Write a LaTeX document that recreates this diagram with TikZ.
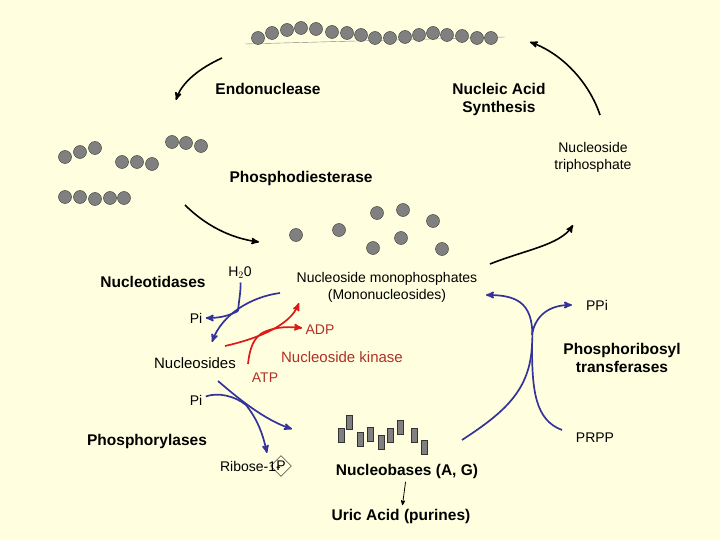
\documentclass[tikz,border=0pt]{standalone}
\usepackage{fontspec}
\setmainfont{Liberation Sans}
\usetikzlibrary{arrows,calc,shapes.geometric}
\definecolor{paper}{HTML}{FFFFE0}
\definecolor{bead}{HTML}{808080}
\definecolor{enzblue}{HTML}{33339A}
\definecolor{kinred}{HTML}{E01818}
\definecolor{kintext}{HTML}{B03028}
\tikzset{
%Define standard arrow tip
>=stealth',
%Styles for the cycle
bead/.style={fill=bead, draw=black!80, thin},
cycle arrow/.style={->, line width=1.6pt},
enzyme/.style={font=\bfseries\fontsize{15.5}{18}\selectfont, align=center},
compound/.style={font=\fontsize{14}{17}\selectfont, align=center},
blue path/.style={->, enzblue, line width=1.7pt},
red path/.style={->, kinred, line width=1.7pt},
base/.style={fill=bead, draw=black!80, thin},
}

\begin{document}
\begin{tikzpicture}[x=1pt,y=-1pt]
    % Frame
    \fill[paper] (0,0) rectangle (720,540);
    \useasboundingbox (0,0) rectangle (720,540);

    % Nucleic acid strand
    \draw[gray, thin] (245,44) -- (505,37);
    \foreach \x/\y in {258/38,272/33,287/30,301/28,316/29,332/32,347/33,361/35,
      375/38,390/38,405/37,419/35,433/33,447/35,462/36,477/38,491/38}
      \filldraw[bead] (\x,\y) circle (6.5);

    % Fragments
    \foreach \x/\y in {65/157,80/152,95/148,122/162,137/162,152/164,
      172/142,186/143,201/146,65/197,80/197,95/199,110/198,124/198}
      \filldraw[bead] (\x,\y) circle (6.5);

    % Single nucleotides
    \foreach \x/\y in {296/235,339/230,377/213,403/210,433/221,
      373/248,401/238,442/249}
      \filldraw[bead] (\x,\y) circle (6.5);

    % Labels
    \node[enzyme] (endo) at (268,89) {Endonuclease};
    \node[enzyme] (synth) at (499,99) {Nucleic Acid\\Synthesis};
    \node[compound] (ntp) at (593,157) {Nucleoside\\triphosphate};
    \node[enzyme] (pde) at (301,178) {Phosphodiesterase};
    \node[enzyme] (ntase) at (153,282) {Nucleotidases};
    \node[compound] (water) at (240,273) {H$_2$0};
    \node[compound] (nmp) at (387,287) {Nucleoside monophosphates\\(Mononucleosides)};
    \node[compound] (ppi) at (597,305) {PPi};
    \node[compound] (pia) at (196,318) {Pi};
    \node[compound, kintext] (adp) at (320,330) {ADP};
    \node[compound, font=\fontsize{15}{17}\selectfont] (nsides) at (195,363) {Nucleosides};
    \node[compound, kintext, font=\fontsize{15}{17}\selectfont] (kinase) at (342,357) {Nucleoside kinase};
    \node[compound, kintext] (atp) at (265,378) {ATP};
    \node[enzyme] (prt) at (622,358) {Phosphoribosyl\\transferases};
    \node[compound] (pib) at (196,400) {Pi};
    \node[enzyme] (phos) at (147,441) {Phosphorylases};
    \node[compound] (prpp) at (595,438) {PRPP};
    \node[compound, anchor=east, inner xsep=0pt] (ribose) at (281,466) {Ribose-1-};
    \node[draw, diamond, inner sep=0.5pt, compound] (rp) at (281,466) {P};
    \node[enzyme] (bases) at (407,471) {Nucleobases (A, G)};
    \node[enzyme] (uric) at (401,516) {Uric Acid (purines)};

    % Nucleobase bars
    \foreach \x/\y in {341/435,349/422,360/439,370/434,381/442,390/435,400/427,414/435,424/447}
      \filldraw[base] (\x-3,\y-7) rectangle (\x+3,\y+7);

    % Help coordinates for the cycle arrows
    \path
    coordinate (e1) at (222,58) coordinate (e2) at (176,100)
    coordinate (d1) at (185,205) coordinate (d2) at (259,242)
    coordinate (t1) at (490,264) coordinate (t2) at (573,225)
    coordinate (s1) at (600,115) coordinate (s2) at (530,42);

    \draw[cycle arrow] (e1) .. controls (200,68) and (182,82) .. (e2);
    \draw[cycle arrow] (d1) .. controls (205,225) and (230,238) .. (d2);
    \draw[cycle arrow] (t1) .. controls (525,250) and (560,245) .. (t2);
    \draw[cycle arrow] (s1) .. controls (590,85) and (565,55) .. (s2);

    % Nucleotidases
    \coordinate (n1) at (280,293);
    \coordinate (nm) at (238,311);
    \draw[blue path] (n1) .. controls (250,297) and (222,315) .. (212,342);
    \draw[enzblue, line width=1.7pt] (water) .. controls (241,290) and (239,300) .. (nm);
    \draw[blue path] (nm) .. controls (230,315) and (222,318) .. (pia);

    % Nucleoside kinase
    \coordinate (k1) at (225,346);
    \coordinate (km) at (262,333);
    \draw[red path] (k1) .. controls (260,338) and (290,325) .. (299,303);
    \draw[kinred, line width=1.7pt] (248,364) .. controls (250,345) and (255,338) .. (km);
    \draw[red path] (km) .. controls (272,328) and (284,326) .. (adp);

    % Phosphorylases
    \coordinate (p1) at (218,381);
    \coordinate (pm) at (246,405);
    \draw[blue path] (p1) .. controls (240,400) and (265,420) .. (292,429);
    \draw[enzblue, line width=1.7pt] (pib) .. controls (218,392) and (235,396) .. (pm);
    \draw[blue path] (pm) .. controls (258,420) and (263,435) .. (267,453);

    % Phosphoribosyl transferases
    \coordinate (b1) at (462,440);
    \coordinate (rm) at (532,345);
    \draw[enzblue, line width=1.7pt] (b1) .. controls (505,412) and (530,390) .. (rm);
    \draw[blue path] (rm) .. controls (535,305) and (520,295) .. (486,295);
    \draw[enzblue, line width=1.7pt] (562,430) .. controls (535,420) and (532,390) .. (rm);
    \draw[blue path] ($(rm)+(0,-10)$) .. controls (535,315) and (550,305) .. (572,305);

    % Breakdown to uric acid
    \draw[->, thick] (bases) -- (uric);
\end{tikzpicture}
\end{document}
